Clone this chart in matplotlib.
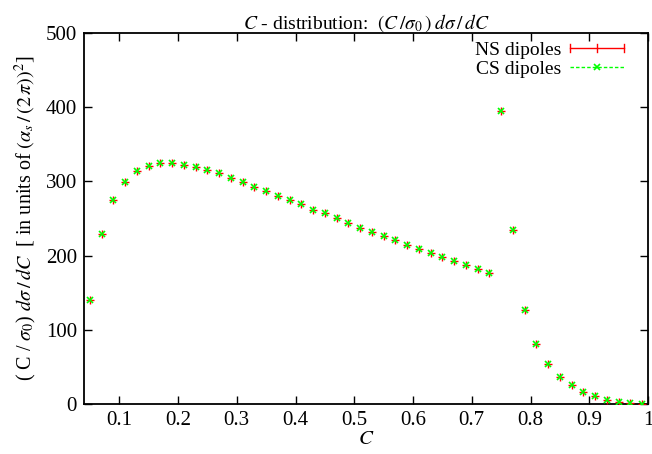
import matplotlib
matplotlib.use("Agg")
import matplotlib.pyplot as plt
from matplotlib.lines import Line2D
from matplotlib.legend_handler import HandlerBase

plt.rcParams['font.family'] = ['Liberation Serif', 'DejaVu Serif']
plt.rcParams['mathtext.fontset'] = 'stix'

# Data: C values (bin centres) and (C/sigma0) dsigma/dC
c_vals = [0.05, 0.07, 0.09, 0.11, 0.13, 0.15, 0.17, 0.19, 0.21, 0.23, 0.25, 0.27,
          0.29, 0.31, 0.33, 0.35, 0.37, 0.39, 0.41, 0.43, 0.45, 0.47, 0.49, 0.51,
          0.53, 0.55, 0.57, 0.59, 0.61, 0.63, 0.65, 0.67, 0.69, 0.71, 0.73, 0.75,
          0.77, 0.79, 0.81, 0.83, 0.85, 0.87, 0.89, 0.91, 0.93, 0.95, 0.97, 0.99]
ns_vals = [140, 229, 274.5, 299.6, 313.6, 320.8, 324.4, 324.4, 322.6, 319, 315.4, 310.9,
           304.6, 299.2, 292.9, 287.5, 280.3, 274.5, 269.5, 261.5, 257, 250.2, 244.3, 237.6,
           232.2, 226, 221, 214.7, 208.9, 203.5, 198.5, 193.1, 187.7, 182.3, 176.9, 394.9,
           234.5, 126.7, 80.4, 53.5, 36.8, 25.2, 16.2, 10.4, 5.8, 3.1, 0.9, 0.3]
ns_err = [1.5] * len(ns_vals)
cs_vals = [140, 229, 274.5, 299.6, 313.6, 320.8, 324.4, 324.4, 322.6, 319, 315.4, 310.9,
           304.6, 299.2, 292.9, 287.5, 280.3, 274.5, 269.5, 261.5, 257, 250.2, 244.3, 237.6,
           232.2, 226, 221, 214.7, 208.9, 203.5, 198.5, 193.1, 187.7, 182.3, 176.9, 394.9,
           234.5, 126.7, 80.4, 53.5, 36.8, 25.2, 16.2, 10.4, 5.8, 3.1, 0.9, 0.3]
x_ticks = [0.1, 0.2, 0.3, 0.4, 0.5, 0.6, 0.7, 0.8, 0.9, 1]
x_ticklabels = ['0.1', '0.2', '0.3', '0.4', '0.5', '0.6', '0.7', '0.8', '0.9', '1']
y_ticks = [0, 100, 200, 300, 400, 500]

RED = '#ff0000'
GREEN = '#00ff00'


class GnuErrHandler(HandlerBase):
    def create_artists(self, legend, orig_handle, xdescent, ydescent,
                       width, height, fontsize, trans):
        x0 = -xdescent
        y = -ydescent + height / 2.0
        h = height * 0.3
        arts = [Line2D([x0, x0 + width], [y, y], color=RED, lw=1.0)]
        for xx in (x0, x0 + width / 2.0, x0 + width):
            arts.append(Line2D([xx, xx], [y - h, y + h], color=RED, lw=1.0))
        for a in arts:
            a.set_transform(trans)
        return arts


fig = plt.figure(figsize=(6.52, 4.54), dpi=100)
ax = fig.add_axes([84 / 652, 50 / 454, 564 / 652, 371 / 454])

ax.errorbar(c_vals, ns_vals, yerr=ns_err, fmt='+', color=RED, ms=6, mew=1.0,
            elinewidth=1.0, capsize=0, zorder=3)
ax.plot(c_vals, cs_vals, linestyle='none', marker='x', color=GREEN, ms=4.5,
        mew=1.2, zorder=4)

ax.set_xlim(0.04, 1.0)
ax.set_ylim(0, 500)
ax.set_xticks(x_ticks)
ax.set_xticklabels(x_ticklabels)
ax.set_yticks(y_ticks)
ax.tick_params(direction='in', length=6, width=1, top=True, right=True,
               labelsize=15, pad=5, colors='black')
for s in ax.spines.values():
    s.set_linewidth(1.3)

ax.set_title(r"$C$ - distribution:  $(C\,/\sigma_0\,)\;d\sigma\,/\,dC$",
             fontsize=14, pad=3)
ax.set_xlabel(r"$C$", fontsize=15, labelpad=0)
ax.set_ylabel(r"( C / $\sigma_0$) $d\sigma\,/\,dC$  [ in units of $(\alpha_s\,/\,(2\,\pi))^2$]",
              fontsize=14.5, labelpad=5)

ns_handle = Line2D([], [], color=RED)
cs_handle = Line2D([], [], color=GREEN, linestyle=(0, (2.5, 1.5)), lw=1.0,
                   marker='x', ms=4.5, mew=1.2)
ax.legend([ns_handle, cs_handle], ['NS dipoles', 'CS dipoles'],
          handler_map={ns_handle: GnuErrHandler()},
          loc='upper right', frameon=False, markerfirst=False, numpoints=1,
          fontsize=14, handlelength=2.8, handletextpad=0.45,
          labelspacing=0.05, borderaxespad=0.3, bbox_to_anchor=(0.982, 1.014))

fig.savefig('out.png', dpi=100)
